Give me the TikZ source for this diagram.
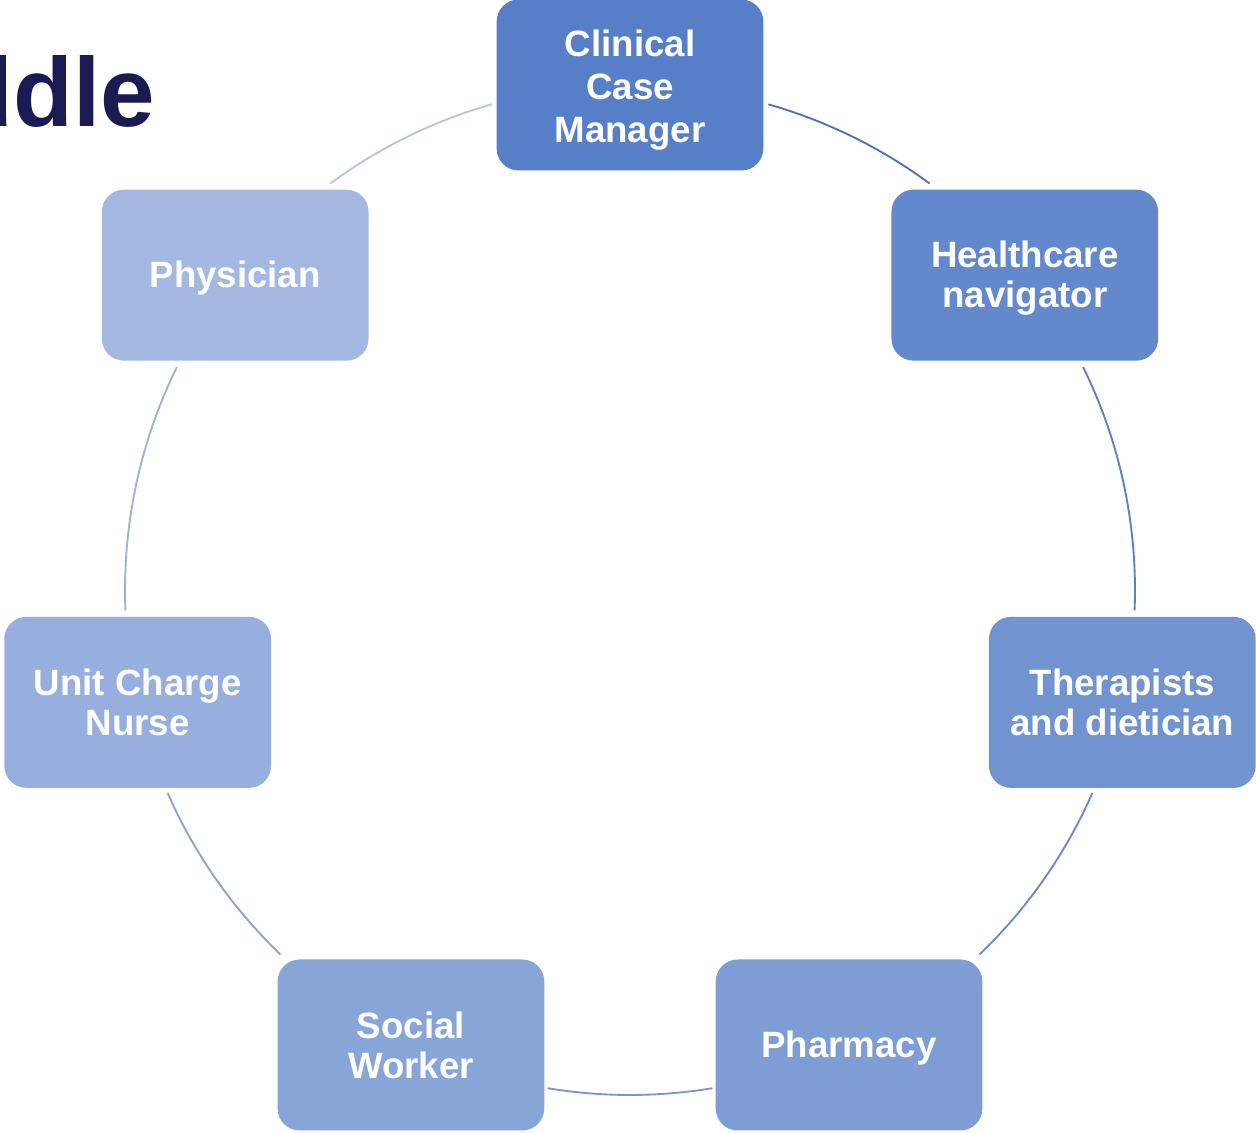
\documentclass[tikz,border=0pt]{standalone}
\usepackage{fontspec}
\setmainfont{Liberation Sans}
\usetikzlibrary{calc}
\definecolor{titlecol}{HTML}{1C1A53}
\definecolor{nA}{HTML}{567FC8}
\definecolor{nB}{HTML}{6389CC}
\definecolor{nC}{HTML}{7194D0}
\definecolor{nD}{HTML}{7E9DD4}
\definecolor{nE}{HTML}{88A5D8}
\definecolor{nF}{HTML}{96AFDE}
\definecolor{nG}{HTML}{A3B9E1}
\definecolor{aA}{HTML}{4A72C0}
\definecolor{aB}{HTML}{5A80C6}
\definecolor{aC}{HTML}{6A8BCB}
\definecolor{aD}{HTML}{7896D0}
\definecolor{aE}{HTML}{8AA2D4}
\definecolor{aF}{HTML}{9EB1DB}
\definecolor{aG}{HTML}{B5C4E6}
\newcommand\liftline[1]{\rule{0pt}{#1}}
\begin{document}
\begin{tikzpicture}[x=0.75pt,y=0.75pt,
  box/.style={rounded corners=16.5pt, minimum width=200pt, minimum height=128.25pt,
    inner sep=0pt, text=white, align=center,
    font=\bfseries\fontsize{27.5}{30}\selectfont,
    execute at begin node={\rule{0pt}{24.5pt}}},
  ring/.style={line width=1.4pt}]
\useasboundingbox (0,0) rectangle (1256,1132);
\clip (0,0) rectangle (1256,1132);
\coordinate (c) at (630,542);
\node[anchor=base east, inner sep=0pt, text=titlecol,
  font=\bfseries\fontsize{73.5}{80}\selectfont] (title) at (155,1005) {Middle};
% nodes
\node[box, fill=nA, font=\bfseries\fontsize{27.5}{32}\selectfont] (ccm) at ($(c)+(90:505)$) {\liftline{27.5pt}Clinical\\Case\\Manager};
\node[box, fill=nB] (hn) at ($(c)+(38.57:505)$) {\liftline{24.5pt}Healthcare\\navigator};
\node[box, fill=nC] (td) at ($(c)+(-12.86:505)$) {Therapists\\and dietician};
\node[box, fill=nD] (ph) at ($(c)+(-64.29:505)$) {Pharmacy};
\node[box, fill=nE] (sw) at ($(c)+(-115.71:505)$) {Social\\Worker};
\node[box, fill=nF] (ucn) at ($(c)+(-167.14:505)$) {Unit Charge\\Nurse};
\node[box, fill=nG] (phy) at ($(c)+(141.43:505)$) {Physician};
% arc start points
\coordinate (s1) at ($(c)+(74.1:505)$);
\coordinate (s2) at ($(c)+(26.2:505)$);
\coordinate (s3) at ($(c)+(-23.7:505)$);
\coordinate (s4) at ($(c)+(-80.6:505)$);
\coordinate (s5) at ($(c)+(-133.8:505)$);
\coordinate (s6) at ($(c)+(-177.7:505)$);
\coordinate (s7) at ($(c)+(126.4:505)$);
% arcs
\draw[ring, draw=aA] (s1) arc[start angle=74.1, end angle=53.6, radius=378.75pt];
\draw[ring, draw=aB] (s2) arc[start angle=26.2, end angle=-2.3, radius=378.75pt];
\draw[ring, draw=aC] (s3) arc[start angle=-23.7, end angle=-46.2, radius=378.75pt];
\draw[ring, draw=aD] (s4) arc[start angle=-80.6, end angle=-99.4, radius=378.75pt];
\draw[ring, draw=aE] (s5) arc[start angle=-133.8, end angle=-156.3, radius=378.75pt];
\draw[ring, draw=aF] (s6) arc[start angle=182.3, end angle=153.8, radius=378.75pt];
\draw[ring, draw=aG] (s7) arc[start angle=126.4, end angle=105.9, radius=378.75pt];
\end{tikzpicture}
\end{document}
